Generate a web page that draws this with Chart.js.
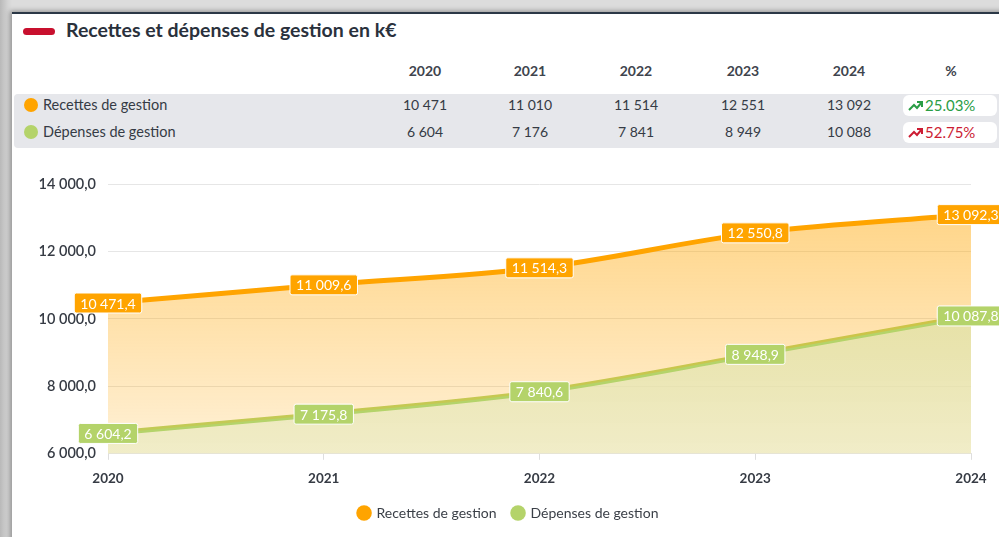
<!DOCTYPE html>
<html>
<head>
<meta charset="utf-8">
<script src="https://cdn.jsdelivr.net/npm/chart.js@4.4.1/dist/chart.umd.min.js"></script>
<style>
  html, body { margin: 0; padding: 0; }
  body {
    width: 999px; height: 537px; overflow: hidden; position: relative;
    background: linear-gradient(90deg, #b9b9b9 0px, #d4d4d4 8px, #dcdcdc 12px);
    font-family: Lato, "Noto Sans", sans-serif; color: #333a45;
  }
  .card {
    position: absolute; left: 12px; top: 12px; width: 1000px; height: 540px;
    background: #fff; border-top: 2px solid #2b3846;
    box-shadow: -2px -1px 5px rgba(0,0,0,0.35);
  }
  .title-bar {
    position: absolute; left: 23px; top: 28px; width: 32px; height: 7px;
    background: #c8102e; border-radius: 4px;
  }
  .title {
    position: absolute; left: 66px; top: 18px; font-size: 19.5px; font-weight: 700;
    color: #2a313c; white-space: nowrap;
  }
  .band {
    position: absolute; left: 14px; top: 94px; width: 990px; height: 54px;
    background: #e6e7eb; border-radius: 4px 0 0 4px;
  }
  .cell {
    position: absolute; width: 100px; text-align: center; font-size: 14px;
    white-space: nowrap; color: #353b45;
  }
  .hdr { font-weight: 700; color: #3e444d; }
  .lbl { position: absolute; left: 43px; font-size: 14.5px; color: #353b45; white-space: nowrap; }
  .dot { position: absolute; left: 24px; width: 14px; height: 14px; border-radius: 50%; }
  .badge {
    position: absolute; left: 903px; width: 94px; height: 21px; background: #fff;
    border-radius: 6px; font-size: 15px; line-height: 21px; white-space: nowrap;
  }
  .badge svg { position: absolute; left: 5px; top: 5px; }
  .badge span { position: absolute; left: 22px; }
  #wrap { position: absolute; left: 12px; top: 160px; width: 987px; height: 377px; }
</style>
</head>
<body>
<div class="card"></div>
<div class="title-bar"></div>
<div class="title">Recettes et dépenses de gestion en k€</div>
<div class="band"></div>
<div id="table"></div>
<div id="wrap"><canvas id="chart"></canvas></div>

<script>
const years = ['2020', '2021', '2022', '2023', '2024'];
const recettes = [10471.4, 11009.6, 11514.3, 12550.8, 13092.3];
const depenses = [6604.2, 7175.8, 7840.6, 8948.9, 10087.8];
const yTicks = [6000, 8000, 10000, 12000, 14000];

const ORANGE = '#ffa400';
const GREEN = '#b4d36a';
const FONT = 'Lato, "Noto Sans", sans-serif';

// nombre au format "10 471,4"
function fmt(v, dec) {
    const parts = v.toFixed(dec).split('.');
    const int = parts[0].replace(/\B(?=(\d{3})+(?!\d))/g, ' ');
    return dec ? int + ',' + parts[1] : int;
}

// tableau au-dessus du graphique
const colX = [425, 530, 636, 743, 849];
const table = document.getElementById('table');
let html = '';
years.forEach((y, i) => {
    html += `<div class="cell hdr" style="left:${colX[i] - 50}px;top:62px">${y}</div>`;
    html += `<div class="cell" style="left:${colX[i] - 50}px;top:96px">${fmt(recettes[i], 0)}</div>`;
    html += `<div class="cell" style="left:${colX[i] - 50}px;top:123px">${fmt(depenses[i], 0)}</div>`;
});
html += `<div class="cell hdr" style="left:901px;top:62px">%</div>`;
html += `<div class="dot" style="top:98px;background:${ORANGE}"></div><div class="lbl" style="top:96px">Recettes de gestion</div>`;
html += `<div class="dot" style="top:125px;background:${GREEN}"></div><div class="lbl" style="top:123px">Dépenses de gestion</div>`;

function badge(top, series, color) {
    const pct = (series[series.length - 1] / series[0] - 1) * 100;
    return `<div class="badge" style="top:${top}px;color:${color}">
      <svg width="16" height="11" viewBox="0 0 16 11"><polyline points="1,10 6,5 9,8 14,2" fill="none" stroke="${color}" stroke-width="2"/><polyline points="9,2 14,2 14,7" fill="none" stroke="${color}" stroke-width="2"/></svg>
      <span>${pct.toFixed(2)}%</span></div>`;
}
html += badge(95, recettes, '#2a9d45');
html += badge(122, depenses, '#cc1c33');
table.innerHTML = html;

// étiquettes de valeur sur les points
const valueLabels = {
    id: 'valueLabels',
    afterLayout(chart) {
        // légende centrée sur toute la carte, pas seulement la zone du graphique
        if (chart.legend) chart.legend.left += 34;
    },
    afterDatasetsDraw(chart) {
        const ctx = chart.ctx;
        ctx.save();
        ctx.font = '14px ' + FONT;
        ctx.textAlign = 'center';
        ctx.textBaseline = 'middle';
        chart.data.datasets.forEach((ds, di) => {
            const meta = chart.getDatasetMeta(di);
            meta.data.forEach((pt, i) => {
                const txt = fmt(ds.data[i], 1);
                const w = ctx.measureText(txt).width + 12;
                const h = 20;
                ctx.beginPath();
                ctx.roundRect(pt.x - w / 2, pt.y - h / 2, w, h, 2);
                ctx.fillStyle = ds.borderColor;
                ctx.fill();
                ctx.lineWidth = 1;
                ctx.strokeStyle = '#ffffff';
                ctx.stroke();
                ctx.fillStyle = '#ffffff';
                ctx.fillText(txt, pt.x, pt.y + 1);
            });
        });
        ctx.restore();
    }
};

function gradient(ctx, top, bottom) {
    const area = ctx.chart.chartArea;
    if (!area) return top;
    const g = ctx.chart.ctx.createLinearGradient(0, area.top, 0, area.bottom);
    g.addColorStop(0, top);
    g.addColorStop(1, bottom);
    return g;
}

new Chart(document.getElementById('chart'), {
    type: 'line',
    data: {
        labels: years,
        datasets: [{
            label: 'Recettes de gestion',
            data: recettes,
            borderColor: ORANGE,
            backgroundColor: ctx => gradient(ctx, 'rgba(255,165,0,0.5)', 'rgba(255,165,0,0.16)'),
            fill: '+1',
            borderWidth: 5,
            pointRadius: 0,
            cubicInterpolationMode: 'monotone'
        }, {
            label: 'Dépenses de gestion',
            data: depenses,
            borderColor: GREEN,
            backgroundColor: ctx => gradient(ctx, 'rgba(214,206,110,0.85)', 'rgba(237,232,186,0.8)'),
            fill: 'origin',
            borderWidth: 5,
            pointRadius: 0,
            cubicInterpolationMode: 'monotone'
        }]
    },
    options: {
        responsive: true,
        maintainAspectRatio: false,
        animation: false,
        layout: { padding: { top: 24, right: 28, bottom: 7, left: 0 } },
        plugins: {
            tooltip: { enabled: false },
            legend: {
                position: 'bottom',
                labels: {
                    usePointStyle: true,
                    pointStyle: 'circle',
                    boxWidth: 11,
                    boxHeight: 11,
                    padding: 16,
                    color: '#3a3f47',
                    font: { family: FONT, size: 14 },
                    generateLabels(chart) {
                        return chart.data.datasets.map((ds, i) => ({
                            text: ds.label,
                            fillStyle: ds.borderColor,
                            strokeStyle: ds.borderColor,
                            lineWidth: 0,
                            pointStyle: 'circle',
                            fontColor: '#3a3f47',
                            datasetIndex: i
                        }));
                    }
                }
            }
        },
        scales: {
            x: {
                afterFit(scale) { scale.height -= 8; },
                grid: { drawOnChartArea: false, tickLength: 6, color: '#dedede' },
                border: { color: '#e2e2e2' },
                ticks: {
                    color: '#363b44',
                    padding: 11,
                    font: { family: FONT, size: 13.5, weight: 'bold' }
                }
            },
            y: {
                min: 6000,
                max: 14000,
                afterFit(scale) { scale.width = 96; },
                afterBuildTicks(scale) { scale.ticks = yTicks.map(v => ({ value: v })); },
                grid: { color: '#e6e6e6', drawTicks: false },
                border: { display: false },
                ticks: {
                    padding: 12,
                    color: '#363b44',
                    font: { family: FONT, size: 14.5, weight: '600' },
                    callback: v => fmt(v, 1)
                }
            }
        }
    },
    plugins: [valueLabels]
});
</script>
</body>
</html>
